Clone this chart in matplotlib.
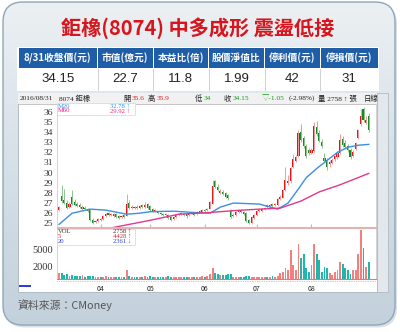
import numpy as np
import matplotlib
matplotlib.use('Agg')
import matplotlib.pyplot as plt
from matplotlib.patches import FancyBboxPatch, Rectangle
from matplotlib.colors import LinearSegmentedColormap

plt.rcParams['font.family'] = ['Noto Sans CJK TC', 'DejaVu Sans']
SERIF = ['Liberation Serif', 'Noto Sans CJK TC', 'DejaVu Sans']

# ---------------- data ----------------
title = '鉅橡(8074) 中多成形 震盪低接'
heads = ['8/31收盤價(元)', '市值(億元)', '本益比(倍)', '股價淨值比', '停利價(元)', '停損價(元)']
values = ['34.15', '22.7', '11.8', '1.99', '42', '31']

opens = [26.3, 27.7, 27.3, 27.0, 26.6, 27.6, 27.1, 26.9, 26.8, 26.4, 26.5, 26.4, 26.3, 25.3, 25.1, 25.2,
         25.4, 25.4, 25.7, 26.0, 25.8, 25.7, 25.9, 25.7, 25.6, 25.8, 25.7, 27.0, 26.5, 26.6, 26.6, 26.5, 26.8, 26.6, 26.9,
         26.7, 26.4, 26.2, 26.1, 26.0, 25.9, 25.8, 25.8, 25.6, 25.4, 25.6, 25.8, 25.9, 25.9, 25.9, 25.8, 26.0, 26.0, 25.9, 26.1, 26.1,
         26.3, 26.3, 26.4, 26.9, 29.2, 28.6, 28.0, 28.1, 28.0, 27.8, 26.2, 25.7, 25.8, 26.1, 26.3, 26.1, 26.0, 25.3, 25.0, 25.5,
         25.8, 26.2, 26.2, 26.4, 26.8, 26.7, 26.9, 26.8, 26.8, 27.4, 27.5, 28.3, 29.0, 29.2, 30.6, 31.1, 31.6, 34.0, 33.4, 32.6, 32.2,
         31.9, 32.1, 34.5, 33.9, 33.0, 31.4, 31.2, 30.8, 30.9, 31.3, 31.5, 31.9, 33.3, 32.9, 32.6, 32.2, 31.6, 32.3, 33.4, 34.8, 36.3, 34.9, 35.6]
highs = [26.7, 28.8, 28.4, 27.3, 27.1, 28.3, 27.4, 27.1, 27.0, 26.8, 26.7, 26.5, 26.4, 25.5, 25.3, 25.5,
         25.5, 25.8, 26.0, 26.1, 26.0, 26.0, 26.0, 25.8, 25.8, 25.9, 27.9, 27.3, 26.8, 26.7, 26.8, 26.8, 26.9, 27.1, 27.0,
         26.8, 26.5, 26.4, 26.2, 26.1, 26.0, 26.0, 25.9, 25.7, 25.7, 25.9, 26.0, 26.1, 26.0, 26.0, 26.1, 26.1, 26.1, 26.2, 26.3, 26.4,
         26.4, 26.5, 27.2, 29.3, 29.3, 28.9, 28.4, 28.3, 28.1, 27.9, 26.4, 26.0, 26.2, 26.4, 26.4, 26.2, 26.1, 25.4, 25.7, 25.9,
         26.3, 26.4, 26.5, 26.6, 26.9, 26.9, 27.0, 27.0, 27.5, 27.8, 28.4, 30.6, 29.8, 30.6, 31.8, 31.7, 34.2, 34.8, 33.6, 32.8, 32.4,
         32.4, 35.0, 35.1, 34.2, 33.3, 31.9, 31.4, 31.2, 31.4, 31.7, 32.1, 33.8, 33.6, 33.2, 32.8, 32.4, 32.2, 33.0, 34.3, 36.3, 36.5, 35.6, 35.9]
lows = [26.2, 27.0, 26.9, 26.4, 26.5, 26.8, 26.7, 26.6, 26.5, 26.3, 26.3, 26.1, 25.2, 24.9, 25.0, 25.1,
        25.2, 25.3, 25.6, 25.7, 25.7, 25.6, 25.5, 25.4, 25.5, 25.5, 25.7, 26.4, 26.4, 26.4, 26.4, 26.4, 26.5, 26.5, 26.4,
        26.2, 26.1, 26.1, 25.9, 25.8, 25.7, 25.7, 25.4, 25.2, 25.3, 25.5, 25.7, 25.8, 25.7, 25.5, 25.7, 25.9, 25.7, 25.8, 26.0, 26.0,
        26.1, 26.2, 26.4, 26.9, 28.5, 28.2, 27.9, 27.8, 27.5, 27.3, 25.5, 25.6, 25.7, 26.0, 26.0, 25.8, 25.1, 24.9, 24.9, 25.4,
        25.7, 26.1, 26.1, 26.3, 26.5, 26.6, 26.6, 26.7, 26.7, 27.3, 27.5, 28.2, 28.8, 29.0, 30.5, 31.0, 31.5, 33.0, 32.4, 31.4, 31.7,
        31.8, 32.0, 33.6, 33.0, 32.4, 31.0, 30.3, 30.6, 30.8, 31.1, 31.3, 31.8, 32.5, 32.3, 32.0, 31.3, 31.5, 32.2, 33.3, 34.6, 35.0, 34.8, 34.0]
closes = [26.6, 27.2, 27.0, 26.5, 26.9, 26.9, 26.8, 26.7, 26.6, 26.6, 26.4, 26.2, 25.3, 25.0, 25.2, 25.4,
          25.3, 25.7, 25.9, 25.8, 25.9, 25.9, 25.6, 25.5, 25.7, 25.6, 26.9, 26.5, 26.6, 26.5, 26.5, 26.7, 26.6, 26.8, 26.5,
          26.3, 26.2, 26.3, 26.0, 25.9, 25.8, 25.9, 25.5, 25.3, 25.6, 25.8, 25.9, 25.9, 25.8, 25.7, 26.0, 26.0, 25.8, 26.1, 26.2, 26.3,
          26.2, 26.4, 27.1, 28.7, 28.6, 28.3, 28.2, 27.9, 27.6, 27.5, 25.6, 25.8, 26.1, 26.3, 26.1, 25.9, 25.2, 25.0, 25.6, 25.8,
          26.2, 26.3, 26.4, 26.5, 26.6, 26.8, 26.7, 26.9, 27.4, 27.6, 28.3, 29.3, 29.2, 30.5, 31.3, 31.5, 33.9, 33.2, 32.6, 31.6, 31.9,
          32.2, 34.6, 33.8, 33.1, 32.6, 31.1, 30.6, 31.0, 31.2, 31.6, 31.9, 33.2, 32.7, 32.5, 32.2, 31.5, 32.0, 32.9, 34.2, 35.6, 35.2, 35.2, 34.15]
volumes = [850, 1000, 600, 700, 400, 650, 450, 500, 400, 550, 300, 350, 500, 450, 300, 300,
           250, 300, 350, 300, 250, 250, 300, 250, 200, 300, 1400, 500, 300, 250, 300, 250, 300, 350, 300,
           350, 300, 250, 300, 250, 250, 200, 350, 300, 250, 300, 250, 200, 250, 250, 200, 250, 300, 250, 300, 350,
           300, 400, 800, 1700, 900, 700, 600, 650, 600, 750, 800, 300, 250, 300, 250, 300, 450, 350, 300, 250,
           250, 300, 250, 300, 300, 250, 350, 300, 400,
           850, 1100, 1800, 1400, 4800, 2300, 1500, 5900, 3400, 4100, 1700, 1100, 2300, 5900, 4200, 3100, 1100,
           2000, 1700, 850, 600, 1100, 1500, 2800, 2400, 1700, 1400, 700, 1400, 1400, 4100, 8200, 5100, 1980, 2758]

ma20_x = [0, 5, 12, 18, 26, 31, 35, 44, 53, 58, 62, 67, 77, 84, 88, 92, 95, 99, 103, 107, 111, 115, 119]
ma20_y = [24.9, 26.0, 26.4, 26.3, 25.9, 26.0, 26.15, 26.2, 26.05, 26.0, 26.6, 27.0, 26.9, 26.4, 27.0, 28.4,
          29.5, 30.4, 31.2, 32.0, 32.5, 32.7, 32.78]
ma60_x = [20, 35, 46, 57, 67, 77, 85, 93, 100, 108, 119]
ma60_y = [24.55, 25.3, 25.9, 26.05, 26.25, 26.4, 26.5, 27.2, 28.1, 28.8, 29.92]
vol_ma5 = 4428
vol_ma20 = 2361

month_pos = [16, 35, 56, 76, 97]
month_lbl = ['04', '05', '06', '07', '08']
price_ticks = list(range(25, 37))
vol_ticks = [2000, 5000]

RED, GREEN = '#e02020', '#1a9a1a'

# ---------------- figure / background ----------------
fig = plt.figure(figsize=(4, 3.32), dpi=100)
fig.patch.set_facecolor('white')
bg = fig.add_axes([0, 0, 1, 1], zorder=0)
bg.axis('off')

shadow = FancyBboxPatch((5, 4.5), 392, 323, boxstyle='round,pad=0,rounding_size=20',
                        fc='#c3cbd2', ec='none', alpha=0.6)
bg.add_patch(shadow)
clip = FancyBboxPatch((3, 2), 392, 323, boxstyle='round,pad=0,rounding_size=20', fc='none', ec='none')
bg.add_patch(clip)
cmap = LinearSegmentedColormap.from_list('panel', ['#ecf0f3', '#d6e0e7', '#c3d1dc'])
im = bg.imshow(np.linspace(0, 1, 256).reshape(-1, 1), extent=(3, 395, 325, 2), cmap=cmap,
               aspect='auto', zorder=1)
im.set_clip_path(clip)
bg.add_patch(FancyBboxPatch((3, 2), 392, 323, boxstyle='round,pad=0,rounding_size=20',
                            fc='none', ec='#8ea6ba', lw=1.0, zorder=2))

bg.text(197.5, 28.5, title, color='#d7151c', fontsize=14.5, fontweight='bold',
        ha='center', va='center', zorder=3)

# table
edges = [18, 97.5, 153, 208.5, 264.5, 320, 378]
bg.add_patch(Rectangle((17, 46.5), 362, 44, fc='white', ec='none', zorder=3))
for k, (hd, vl) in enumerate(zip(heads, values)):
    x0, x1 = edges[k], edges[k + 1]
    bg.add_patch(Rectangle((x0 + 0.5, 47.5), x1 - x0 - 1, 20.5, fc='#1f5ea6', ec='none', zorder=4))
    bg.text((x0 + x1) / 2, 58, hd, color='white', fontsize=7, fontweight='bold',
            ha='center', va='center', zorder=5)
    bg.text((x0 + x1) / 2, 79.5, vl, color='#222222', fontsize=9.5, family=['Liberation Sans'],
            ha='center', va='center', zorder=5)
    if k > 0:
        bg.plot([x0, x0], [69, 89.5], color='#c8c8c8', lw=0.6, zorder=5)

# chart frame
bg.add_patch(Rectangle((18, 93), 359, 199, fc='white', ec='#a9b4bd', lw=0.6, zorder=3))
bg.add_patch(Rectangle((377, 93), 11, 199, fc='#e3e8ec', ec='#b0bac3', lw=0.6, zorder=3))
bg.add_patch(Rectangle((18, 93), 359, 10.5, fc='#f1f1f1', ec='none', zorder=4))
bg.plot([18, 377], [103.5, 103.5], color='#bdbdbd', lw=0.6, zorder=5)
bg.add_patch(Rectangle((18.5, 285), 12.5, 2, fc='#2d3fd6', ec='none', zorder=5))
bg.plot([57, 376], [281, 281], color='#9a9a9a', lw=0.5, ls=(0, (1, 1.5)), zorder=5)

o, h, l, c = map(np.array, (opens, highs, lows, closes))
last = len(c) - 1
chg = c[last] - c[last - 1]
strip = [(20, '2016/08/31', '#222222'), (59, '8074 鉅橡', '#222222'),
         (123, '開', '#222222'), (131.5, f'{o[last]:.1f}', RED),
         (148, '高', '#222222'), (156.5, f'{h[last]:.1f}', RED),
         (195, '低', '#222222'), (203.5, f'{l[last]:g}', GREEN),
         (224, '收', '#222222'), (232.5, f'{c[last]:.2f}', GREEN),
         (262, f'▽{chg:.2f}', GREEN),
         (289, f'({chg / c[last - 1] * 100:.2f}%)', '#222222'),
         (318, f'量 {volumes[last]} ↑ 張', '#222222'), (364, '日線', '#222222')]
for x, s, col in strip:
    bg.text(x, 98.5, s, color=col, fontsize=5.3, family=SERIF, ha='left', va='center', zorder=6)

bg.text(18, 305, '資料來源：CMoney', color='#555555', fontsize=7.8, ha='left', va='center', zorder=3)
bg.set_xlim(0, 400)
bg.set_ylim(332, 0)

# ---------------- price panel ----------------
W, H = 400.0, 332.0
pax = fig.add_axes([57 / W, 1 - 227 / H, 319 / W, 123 / H], zorder=1)
pax.set_facecolor('none')
idx = np.arange(len(c))
up = c >= o
pax.vlines(idx[up], l[up], h[up], color='#f19c9c', lw=0.7)
pax.vlines(idx[~up], l[~up], h[~up], color='#8cc68c', lw=0.7)
body = np.maximum(np.abs(c - o), 0.08)
bot = np.minimum(o, c)
pax.bar(idx[up], body[up], bottom=bot[up], width=0.8, color='#e4161c', lw=0)
pax.bar(idx[~up], body[~up], bottom=bot[~up], width=0.8, color='#178a25', lw=0)
pax.plot(ma20_x, ma20_y, color='#3b8fe3', lw=1.0)
pax.plot(ma60_x, ma60_y, color='#e2388c', lw=1.0)
pax.set_xlim(-0.8, 121.8)
pax.set_ylim(24.64, 36.76)
pax.set_yticks(price_ticks)
pax.set_yticklabels([str(t) for t in price_ticks], fontsize=6.8, family=SERIF, color='#333333')
pax.tick_params(axis='y', length=0, pad=3)
pax.set_xticks(month_pos)
pax.set_xticklabels([])
pax.tick_params(axis='x', direction='in', length=2, color='#bbbbbb')
pax.spines['top'].set_visible(False)
for s in ('left', 'right'):
    pax.spines[s].set_color('#cccccc')
    pax.spines[s].set_linewidth(0.6)
pax.spines['bottom'].set_color('#e3b3b3')
pax.spines['bottom'].set_linewidth(0.8)

# ---------------- volume panel ----------------
vax = fig.add_axes([57 / W, 1 - 278.5 / H, 319 / W, 50.5 / H], zorder=1)
vax.set_facecolor('none')
vax.bar(idx, volumes, width=0.72, color=np.where(up, '#f47f7f', '#1fb6ae'), lw=0)
vax.set_xlim(-0.8, 121.8)
vax.set_ylim(0, 8560)
vax.set_yticks(vol_ticks)
vax.set_yticklabels([str(t) for t in vol_ticks], fontsize=7.5, family=SERIF, color='#333333')
vax.tick_params(axis='y', length=0, pad=3)
vax.set_xticks(month_pos)
vax.set_xticklabels(month_lbl, fontsize=5, color='#222222')
vax.tick_params(axis='x', length=0, pad=5)
vax.spines['top'].set_color('#e3b3b3')
vax.spines['bottom'].set_color('#e07a7a')
for s in ('left', 'right'):
    vax.spines[s].set_color('#cccccc')
    vax.spines[s].set_linewidth(0.6)

# ---------------- overlay legends ----------------
ov = fig.add_axes([0, 0, 1, 1], zorder=2)
ov.axis('off')
ov.set_xlim(0, 400)
ov.set_ylim(332, 0)
ov.add_patch(Rectangle((56.5, 102.5), 78, 12.5, fc='white', ec='#d5d5d5', lw=0.5))
ov.text(58, 106, 'M20', color='#2f8fe8', fontsize=4.8, family=SERIF, va='center')
ov.text(130, 106, f'{ma20_y[-1]:.2f} ↑', color='#2f8fe8', fontsize=4.8, family=SERIF, va='center', ha='right')
ov.text(58, 111, 'M60', color='#e0218a', fontsize=4.8, family=SERIF, va='center')
ov.text(130, 111, f'{ma60_y[-1]:.2f} ↑', color='#e0218a', fontsize=4.8, family=SERIF, va='center', ha='right')

ov.add_patch(Rectangle((56.5, 228.5), 78, 16, fc='white', ec='#d5d5d5', lw=0.5))
rows = [('VOL', f'{volumes[-1]} ↑', '#333333'), ('5', f'{vol_ma5} ↑', RED), ('20', f'{vol_ma20} ↓', '#2a3fd0')]
for k, (a, b, col) in enumerate(rows):
    ov.text(58, 231.5 + 5 * k, a, color=col, fontsize=4.8, family=SERIF, va='center')
    ov.text(131, 231.5 + 5 * k, b, color=col, fontsize=4.8, family=SERIF, va='center', ha='right')

fig.savefig('out.png', dpi=100)
